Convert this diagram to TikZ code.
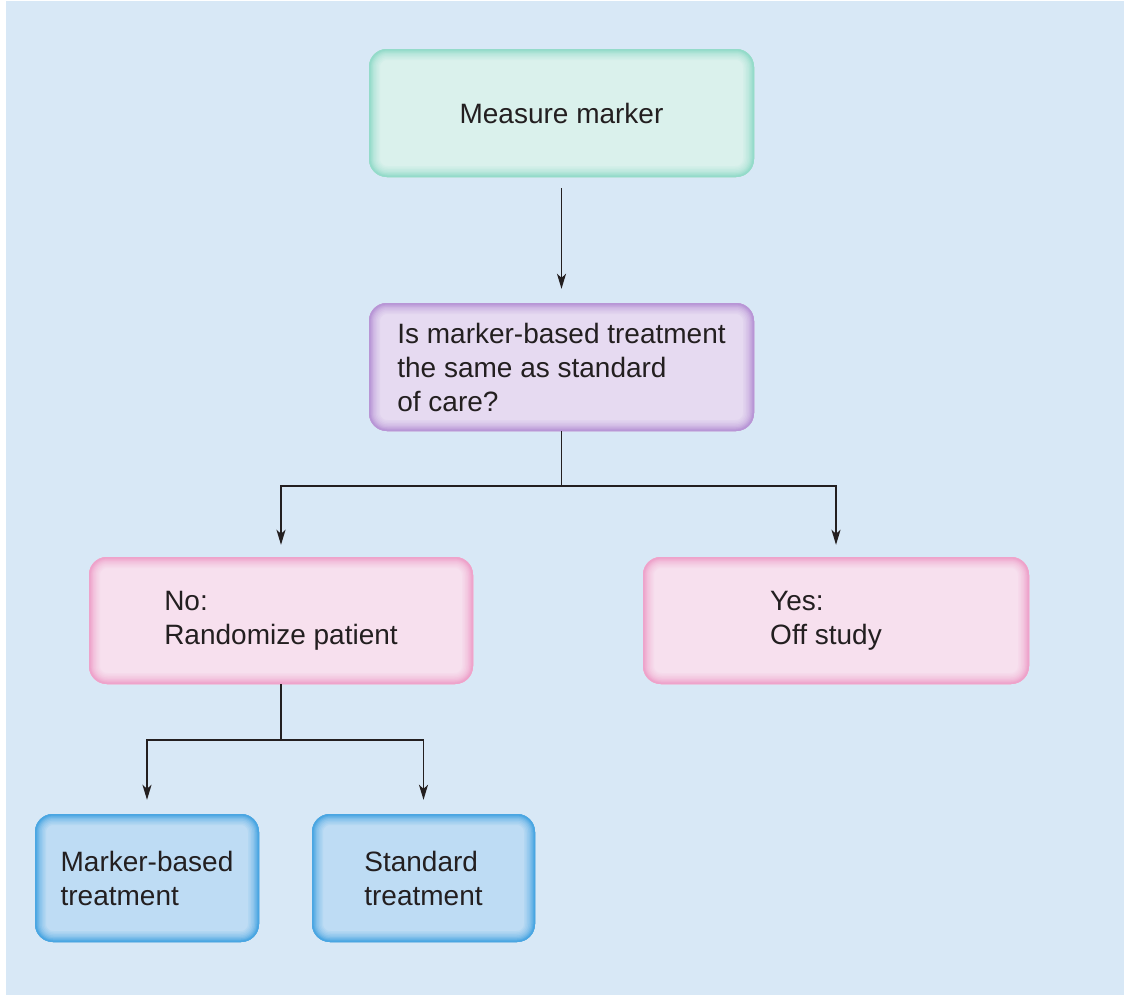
\documentclass[tikz,border=0pt]{standalone}
\usepackage{fontspec}
\setmainfont{Liberation Sans}
\usetikzlibrary{arrows.meta}
\definecolor{bg}{HTML}{D8E8F6}
\definecolor{txt}{HTML}{231F20}
\definecolor{gfill}{HTML}{DAF1EC}
\definecolor{gedge}{HTML}{94DBCA}
\definecolor{pfill}{HTML}{E6DAF1}
\definecolor{pedge}{HTML}{B896D6}
\definecolor{kfill}{HTML}{F7E0EE}
\definecolor{kedge}{HTML}{EEA3CB}
\definecolor{bfill}{HTML}{BEDCF4}
\definecolor{bedge}{HTML}{4AA6E2}
\newcommand{\glowring}[3]{%
  \draw[#1, line width=#3, rounded corners=18pt]
    (path picture bounding box.south west) rectangle (path picture bounding box.north east);}
\tikzset{
  glowbox/.style 2 args={
    rounded corners=18pt, fill=#2, text=txt, align=left, inner sep=0pt,
    font=\fontsize{28}{34}\selectfont,
    path picture={
      \glowring{#1!10!#2}{}{22pt}
      \glowring{#1!20!#2}{}{19pt}
      \glowring{#1!30!#2}{}{16pt}
      \glowring{#1!42!#2}{}{13pt}
      \glowring{#1!55!#2}{}{10pt}
      \glowring{#1!70!#2}{}{7.5pt}
      \glowring{#1!85!#2}{}{5pt}
      \glowring{#1}{}{3pt}
    }},
  conn/.style={draw=txt, line width=1.6pt},
  arr/.style={conn, -{Stealth[length=15pt,width=9pt,inset=4pt]}}
}
\begin{document}
\begin{tikzpicture}[x=1pt,y=-1pt]
\fill[white] (0,0) rectangle (1126,997);
\useasboundingbox (0,0) rectangle (1126,997);
\fill[bg] (6,1) rectangle (1124,995);

\node[glowbox={gedge}{gfill}, minimum width=385pt, minimum height=128pt] (mm) at (561.5,113) {Measure marker};
\node[glowbox={pedge}{pfill}, minimum width=385pt, minimum height=128pt] (q) at (561.5,367) {Is marker-based treatment\\the same as standard\\of care?};
\node[glowbox={kedge}{kfill}, minimum width=384pt, minimum height=127pt] (no) at (281,620.5) {No:\\Randomize patient};
\node[glowbox={kedge}{kfill}, minimum width=386pt, minimum height=127pt] (yes) at (836,620.5) {Yes:\\Off study\hspace*{20pt}};
\node[glowbox={bedge}{bfill}, minimum width=224pt, minimum height=128pt] (mb) at (147,878) {Marker-based\\treatment};
\node[glowbox={bedge}{bfill}, minimum width=223pt, minimum height=128pt] (st) at (423.5,878) {Standard\\treatment};

\draw[arr, shorten <=11pt, shorten >=14pt] (mm.south) -- (q.north);

\coordinate (j1) at (561.5,486);
\draw[conn] (q.south) -- (j1);
\draw[arr, shorten >=12pt] (j1) -| (no.north);
\draw[arr, shorten >=12pt] (j1) -| (yes.north);

\coordinate (j2) at (281,740);
\draw[conn] (no.south) -- (j2);
\draw[arr, shorten >=14pt] (j2) -| (mb.north);
\draw[arr, shorten >=14pt] (j2) -| (st.north);
\end{tikzpicture}
\end{document}
